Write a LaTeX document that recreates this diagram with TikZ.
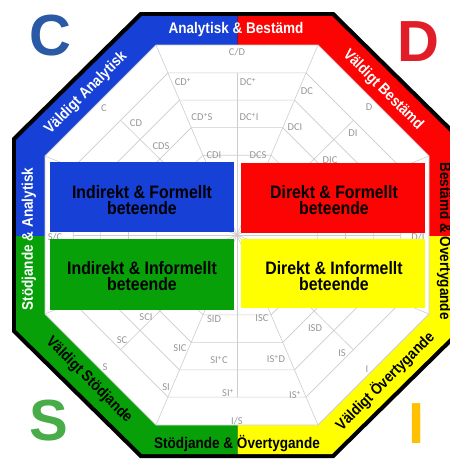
\documentclass[tikz,border=0pt]{standalone}
\usepackage{fontspec}
\setmainfont{Liberation Sans}
\newfontfamily\cond{Liberation Sans}[FakeStretch=0.88]
\newfontfamily\labfont{Carlito}
\definecolor{cblue}{RGB}{22,64,214}
\definecolor{cred}{RGB}{252,4,4}
\definecolor{cgreen}{RGB}{8,160,8}
\definecolor{cyellow}{RGB}{255,255,0}
\definecolor{bigC}{RGB}{42,90,165}
\definecolor{bigD}{RGB}{225,30,40}
\definecolor{bigS}{RGB}{72,172,72}
\definecolor{bigI}{RGB}{255,192,0}
\definecolor{gridgray}{RGB}{205,205,205}
\definecolor{labgray}{RGB}{150,150,150}
\tikzset{
  octo/.style n args={4}{insert path={(237-#3,235-#2) -- (237+#3,235-#2) -- (237+#1,235-#4) -- (237+#1,235+#4) -- (237+#3,235+#2) -- (237-#3,235+#2) -- (237-#1,235+#4) -- (237-#1,235-#4) -- cycle}},
  octs/.style={insert path={(237-81*#1,235-190*#1) -- (237+81*#1,235-190*#1) -- (237+192*#1,235-79*#1) -- (237+192*#1,235+79*#1) -- (237+81*#1,235+190*#1) -- (237-81*#1,235+190*#1) -- (237-192*#1,235+79*#1) -- (237-192*#1,235-79*#1) -- cycle}},
  bandtxt/.style={font=\cond\bfseries\fontsize{15.4}{16}\selectfont, inner sep=0},
  recttxt/.style={font=\cond\bfseries\fontsize{18}{15.5}\selectfont, align=center, inner sep=0},
  lab/.style={font=\labfont\fontsize{10.5}{11}\selectfont, text=labgray, inner sep=0},
  big/.style={font=\bfseries\fontsize{58}{58}\selectfont, inner sep=0},
  gridline/.style={draw=gridgray, line width=0.6pt}
}
\begin{document}
\begin{tikzpicture}[x=1pt,y=-1pt]
\useasboundingbox (0,0) rectangle (450,459);
\clip (0,0) rectangle (450,459);
\fill[white] (0,0) rectangle (450,459);
% black border
\fill[black, octo={225}{223}{97}{97}];
% coloured band
\begin{scope}\clip (0,0) rectangle (237.5,236);\fill[cblue, octo={221}{219}{95}{95}];\end{scope}
\begin{scope}\clip (237.5,0) rectangle (470,236);\fill[cred, octo={221}{219}{95}{95}];\end{scope}
\begin{scope}\clip (0,236) rectangle (237.5,470);\fill[cgreen, octo={221}{219}{95}{95}];\end{scope}
\begin{scope}\clip (237.5,236) rectangle (470,470);\fill[cyellow, octo={221}{219}{95}{95}];\end{scope}
% inner white
\fill[white, draw=gridgray, line width=0.8pt, octs=1];
% grid
\draw[gridline, octs=0.853];
\draw[gridline, octs=0.71];
\draw[gridline, octs=0.565];
\draw[gridline, octs=0.42];
\foreach \px/\py in {-81/-190, 81/-190, 192/-79, 192/79, 81/190, -81/190, -192/79, -192/-79}
  \draw[gridline] (237+\px,235+\py) -- (237,235);
\foreach \px/\py in {0/-190, 136.5/-134.5, 192/0, 136.5/134.5, 0/190, -136.5/134.5, -192/0, -136.5/-134.5}
  \draw[gridline] (237+0.853*\px,235+0.853*\py) -- (237,235);
% grid labels
\node[lab] (lCD)   at (237,52) {C/D};
\node[lab] (lCDp)  at (183,82) {CD\textsuperscript{+}};
\node[lab] (lDCp)  at (248,82) {DC\textsuperscript{+}};
\node[lab] (lC)    at (104,108) {C};
\node[lab] (lDC)   at (307,91) {DC};
\node[lab] (lD)    at (369,107) {D};
\node[lab] (lCDd)  at (136,123) {CD};
\node[lab] (lCDpS) at (202,117) {CD\textsuperscript{+}S};
\node[lab] (lDCpI) at (249,117) {DC\textsuperscript{+}I};
\node[lab] (lDCI)  at (295,127) {DCI};
\node[lab] (lDI)   at (353,133) {DI};
\node[lab] (lCDS)  at (161,146) {CDS};
\node[lab] (lCDI)  at (214,155) {CDI};
\node[lab] (lDCS)  at (258,155) {DCS};
\node[lab] (lDIC)  at (330,160) {DIC};
\node[lab] (lSC)   at (55,237) {S/C};
\node[lab] (lDIs)  at (418,237) {D/I};
\node[lab] (lSCI)  at (146,317) {SCI};
\node[lab] (lSID)  at (214,319) {SID};
\node[lab] (lISC)  at (262,318) {ISC};
\node[lab] (lISD)  at (315,328) {ISD};
\node[lab] (lSCs)  at (122,340) {SC};
\node[lab] (lSIC)  at (180,348) {SIC};
\node[lab] (lIS)   at (342,353) {IS};
\node[lab] (lISpD) at (276,359) {IS\textsuperscript{+}D};
\node[lab] (lSIpC) at (219,360) {SI\textsuperscript{+}C};
\node[lab] (lI)    at (367,369) {I};
\node[lab] (lS)    at (105,367) {S};
\node[lab] (lSI)   at (166,387) {SI};
\node[lab] (lSIp)  at (228,393) {SI\textsuperscript{+}};
\node[lab] (lISp)  at (295,395) {IS\textsuperscript{+}};
\node[lab] (lIS2)  at (237,421) {I/S};
% rectangles
\fill[cblue]   (50,162) rectangle (234,232);
\fill[cred]    (241,163) rectangle (425,233);
\fill[cgreen]  (50,239) rectangle (234,310);
\fill[cyellow] (241,239) rectangle (425,308);
\node[recttxt] (tIF)  at (142,200) {Indirekt \& Formellt\\beteende};
\node[recttxt] (tDF)  at (334,200) {Direkt \& Formellt\\beteende};
\node[recttxt] (tII)  at (142,276) {Indirekt \& Informellt\\beteende};
\node[recttxt] (tDI)  at (334,276) {Direkt \& Informellt\\beteende};
% band texts
\node[bandtxt, text=white, anchor=base] (bTop) at (236,33) {Analytisk \& Bestämd};
\node[bandtxt, text=black, anchor=base] (bBot) at (237,448) {Stödjande \& Övertygande};
\node[bandtxt, text=white, anchor=base, rotate=90] (bLeft) at (33,239) {Stödjande \& Analytisk};
\node[bandtxt, text=black, anchor=base, rotate=-90] (bRight) at (440,241) {Bestämd \& Övertygande};
\node[bandtxt, text=white, rotate=45] (bTL) at (86,93) {Väldigt Analytisk};
\node[bandtxt, text=white, rotate=-45] (bTR) at (383,90) {Väldigt Bestämd};
\node[bandtxt, text=black, rotate=-45] (bBL) at (89,380) {Väldigt Stödjande};
\node[bandtxt, text=black, rotate=45] (bBR) at (385,381) {Väldigt Övertygande};
% big letters
\node[big, text=bigC] (bigc) at (50,36) {C};
\node[big, text=bigD] (bigd) at (418,42) {D};
\node[big, text=bigS] (bigs) at (49,421) {S};
\node[big, text=bigI] (bigi) at (417,424) {I};
\end{tikzpicture}
\end{document}
